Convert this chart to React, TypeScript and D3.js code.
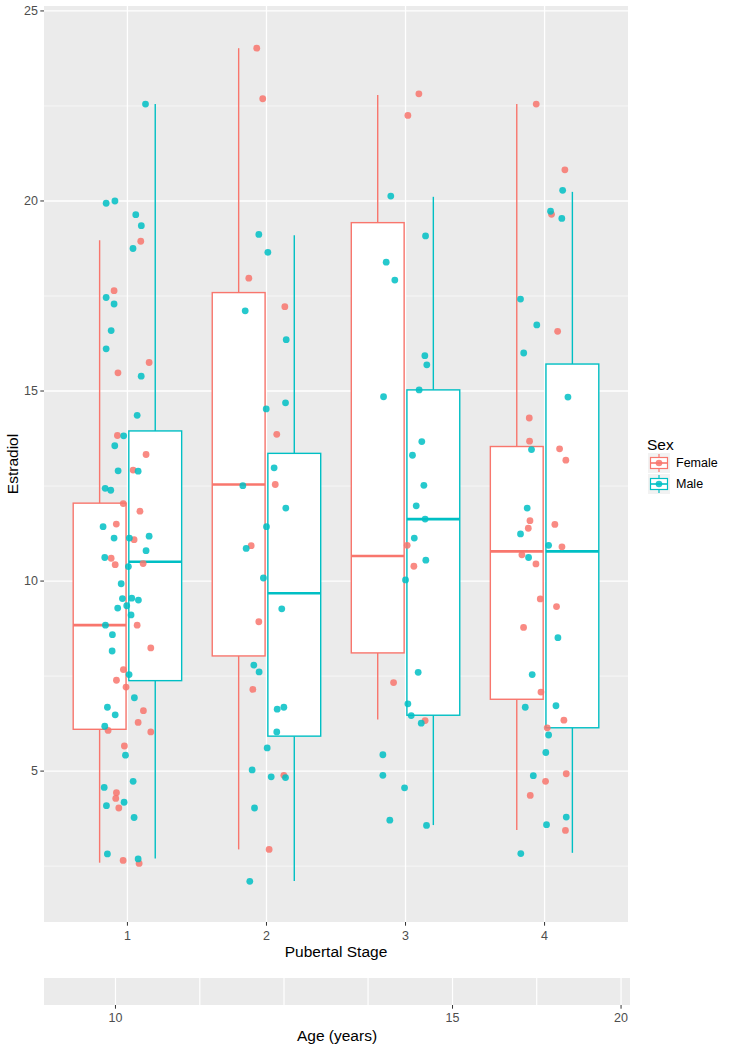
import React from "react";
import * as d3 from "d3";

// ---------- data ----------
const stages = [1, 2, 3, 4];
const sexes = ["Female", "Male"];
const sexColors = ["#F8766D", "#00BFC4"];
const yTicks = [5, 10, 15, 20, 25];
const yMinor = [2.5, 7.5, 12.5, 17.5, 22.5];
const ageTicks = [10, 15, 20];
const ageGrid = [10, 10.91, 12, 13.33, 15, 17.14, 20];
const ageDomain = [9.34, 20.36];

// [stage, lower whisker, q1, median, q3, upper whisker]
const femaleBoxes = [
  [1, 2.59, 6.1, 8.84, 12.05, 18.97],
  [2, 2.94, 8.03, 12.54, 17.59, 24.02],
  [3, 6.36, 8.11, 10.66, 19.43, 22.79],
  [4, 3.45, 6.89, 10.78, 13.54, 22.55],
];
const maleBoxes = [
  [1, 2.7, 7.38, 10.51, 13.95, 22.55],
  [2, 2.11, 5.92, 9.68, 13.36, 19.1],
  [3, 3.58, 6.47, 11.63, 15.03, 20.11],
  [4, 2.85, 6.14, 10.78, 15.71, 20.24],
];

// [stage, jitter, estradiol]
const femalePoints = [
  [1, 0.096, 18.94], [1, -0.096, 17.64], [1, 0.156, 15.75], [1, -0.068, 15.48], [1, -0.072, 13.83],
  [1, 0.134, 13.33], [1, 0.041, 12.92], [1, -0.03, 12.04], [1, 0.09, 11.84], [1, -0.08, 11.5],
  [1, 0.048, 11.09], [1, -0.117, 10.6], [1, -0.088, 10.43], [1, 0.113, 10.46], [1, 0.07, 8.84],
  [1, 0.168, 8.24], [1, -0.029, 7.67], [1, -0.079, 7.39], [1, -0.01, 7.21], [1, 0.115, 6.59],
  [1, 0.077, 6.28], [1, -0.139, 6.07], [1, 0.168, 6.03], [1, -0.022, 5.66], [1, -0.079, 4.43],
  [1, -0.084, 4.28], [1, -0.062, 4.03], [1, -0.031, 2.65], [1, 0.084, 2.57],
  [2, -0.07, 24.02], [2, -0.027, 22.69], [2, -0.127, 17.97], [2, 0.132, 17.22], [2, 0.074, 13.86],
  [2, 0.063, 12.54], [2, -0.11, 10.93], [2, -0.055, 8.93], [2, -0.098, 7.15], [2, 0.125, 4.89],
  [2, 0.019, 2.94],
  [3, 0.096, 22.82], [3, 0.017, 22.25], [3, 0.012, 10.94], [3, 0.06, 10.39], [3, -0.086, 7.33],
  [3, 0.141, 6.33],
  [4, -0.06, 22.55], [4, 0.146, 20.82], [4, 0.05, 19.65], [4, 0.094, 16.57], [4, -0.11, 14.29],
  [4, -0.108, 13.68], [4, 0.108, 13.48], [4, 0.153, 13.18], [4, -0.105, 11.59], [4, -0.117, 11.39],
  [4, 0.074, 11.49], [4, 0.125, 10.9], [4, -0.163, 10.69], [4, -0.062, 10.45], [4, -0.031, 9.53],
  [4, 0.086, 9.33], [4, -0.151, 8.78], [4, -0.026, 7.08], [4, 0.139, 6.34], [4, 0.019, 6.14],
  [4, 0.156, 4.93], [4, 0.007, 4.73], [4, -0.103, 4.36], [4, 0.15, 3.44],
];
const malePoints = [
  [1, 0.13, 22.55], [1, -0.153, 19.94], [1, -0.09, 20.0], [1, 0.06, 19.64], [1, 0.1, 19.35],
  [1, 0.04, 18.75], [1, -0.153, 17.46], [1, -0.096, 17.29], [1, -0.117, 16.59], [1, -0.153, 16.11],
  [1, 0.099, 15.39], [1, 0.07, 14.36], [1, -0.027, 13.82], [1, -0.091, 13.56], [1, -0.067, 12.9],
  [1, 0.077, 12.89], [1, -0.16, 12.44], [1, -0.12, 12.39], [1, -0.175, 11.43], [1, -0.096, 11.13],
  [1, 0.014, 11.13], [1, 0.156, 11.18], [1, 0.134, 10.8], [1, -0.163, 10.62], [1, 0.007, 10.38],
  [1, -0.045, 9.93], [1, -0.036, 9.54], [1, 0.031, 9.55], [1, 0.079, 9.5], [1, -0.07, 9.29],
  [1, -0.005, 9.35], [1, 0.026, 9.11], [1, -0.158, 8.84], [1, -0.108, 8.59], [1, -0.11, 8.16],
  [1, 0.012, 7.54], [1, 0.05, 6.93], [1, -0.144, 6.68], [1, -0.088, 6.48], [1, -0.163, 6.18],
  [1, -0.014, 5.42], [1, 0.041, 4.73], [1, -0.167, 4.57], [1, -0.024, 4.18], [1, -0.151, 4.09],
  [1, 0.048, 3.78], [1, -0.144, 2.82], [1, 0.077, 2.69],
  [2, -0.055, 19.12], [2, 0.01, 18.65], [2, -0.153, 17.11], [2, 0.142, 16.35], [2, -0.002, 14.53],
  [2, 0.137, 14.69], [2, 0.055, 12.98], [2, -0.17, 12.51], [2, 0.139, 11.92], [2, 0, 11.43],
  [2, -0.146, 10.86], [2, -0.022, 10.08], [2, 0.11, 9.27], [2, -0.091, 7.79], [2, -0.053, 7.61],
  [2, 0.077, 6.63], [2, 0.125, 6.68], [2, 0.074, 6.03], [2, 0.005, 5.61], [2, -0.103, 5.03],
  [2, 0.034, 4.85], [2, 0.137, 4.83], [2, -0.086, 4.03], [2, -0.12, 2.1],
  [3, -0.106, 20.13], [3, 0.144, 19.08], [3, -0.139, 18.39], [3, -0.077, 17.92], [3, 0.139, 15.93],
  [3, 0.153, 15.69], [3, 0.098, 15.03], [3, -0.158, 14.85], [3, 0.117, 13.67], [3, 0.05, 13.31],
  [3, 0.132, 12.52], [3, 0.077, 11.98], [3, 0.141, 11.63], [3, 0.063, 11.13], [3, 0.146, 10.55],
  [3, 0, 10.03], [3, 0.091, 7.6], [3, 0.017, 6.77], [3, 0.041, 6.46], [3, 0.113, 6.26],
  [3, -0.163, 5.43], [3, -0.163, 4.89], [3, -0.007, 4.56], [3, -0.113, 3.71], [3, 0.151, 3.57],
  [4, 0.13, 20.28], [4, 0.043, 19.73], [4, 0.124, 19.54], [4, -0.173, 17.42], [4, -0.056, 16.74],
  [4, -0.15, 16.0], [4, 0.168, 14.84], [4, -0.094, 13.46], [4, -0.125, 11.92], [4, -0.173, 11.24],
  [4, 0.029, 10.94], [4, -0.115, 10.62], [4, 0.096, 8.51], [4, -0.089, 7.54], [4, -0.139, 6.68],
  [4, 0.082, 6.72], [4, 0.029, 5.95], [4, 0.009, 5.49], [4, -0.081, 4.88], [4, 0.156, 3.79],
  [4, 0.014, 3.59], [4, -0.171, 2.83],
];

// ---------- layout ----------
const W = 736;
const H = 1050;
const panel = { left: 44, right: 628, top: 6, bottom: 922 };
const strip = { left: 44, right: 630, top: 978, bottom: 1005 };
const FONT = "'Liberation Sans', Arial, Helvetica, sans-serif";
const dodge = 0.2;
const halfBox = 0.19;

export default function App() {
  const x = d3.scaleLinear().domain([0.4, 4.6]).range([panel.left, panel.right]);
  const y = d3.scaleLinear().domain([1.03, 25.13]).range([panel.bottom, panel.top]);
  const age = d3
    .scaleLinear()
    .domain([1 / ageDomain[0], 1 / ageDomain[1]])
    .range([strip.left, strip.right]);

  const boxSets = [femaleBoxes, maleBoxes];
  const pointSets = [femalePoints, malePoints];

  return (
    <svg
      width={W}
      height={H}
      style={{ position: "absolute", left: 0, top: 0, background: "#fff" }}
      fontFamily={FONT}
    >
      {/* main panel */}
      <rect
        x={panel.left}
        y={panel.top}
        width={panel.right - panel.left}
        height={panel.bottom - panel.top}
        fill="#EBEBEB"
      />
      {yMinor.map((v) => (
        <line key={"mn" + v} x1={panel.left} x2={panel.right} y1={y(v)} y2={y(v)} stroke="#fff" strokeWidth={0.6} />
      ))}
      {yTicks.map((v) => (
        <line key={"mj" + v} x1={panel.left} x2={panel.right} y1={y(v)} y2={y(v)} stroke="#fff" strokeWidth={1.3} />
      ))}
      {stages.map((s) => (
        <line key={"vx" + s} x1={x(s)} x2={x(s)} y1={panel.top} y2={panel.bottom} stroke="#fff" strokeWidth={1.3} />
      ))}

      {/* boxes */}
      {boxSets.map((set, si) =>
        set.map(([s, lo, q1, med, q3, hi]) => {
          const cx = x(s + (si === 0 ? -dodge : dodge));
          const x0 = x(s + (si === 0 ? -dodge : dodge) - halfBox);
          const x1 = x(s + (si === 0 ? -dodge : dodge) + halfBox);
          const c = sexColors[si];
          return (
            <g key={"b" + si + s}>
              <line x1={cx} x2={cx} y1={y(hi)} y2={y(q3)} stroke={c} strokeWidth={1.4} />
              <line x1={cx} x2={cx} y1={y(q1)} y2={y(lo)} stroke={c} strokeWidth={1.4} />
              <rect x={x0} y={y(q3)} width={x1 - x0} height={y(q1) - y(q3)} fill="#fff" stroke={c} strokeWidth={1.4} />
              <line x1={x0} x2={x1} y1={y(med)} y2={y(med)} stroke={c} strokeWidth={2.6} />
            </g>
          );
        })
      )}

      {/* jittered points */}
      {pointSets.map((set, si) =>
        set.map(([s, j, v], i) => (
          <circle
            key={"p" + si + "-" + i}
            cx={x(s + j)}
            cy={y(v)}
            r={3.4}
            fill={sexColors[si]}
            fillOpacity={0.85}
          />
        ))
      )}

      {/* y axis */}
      {yTicks.map((v) => (
        <g key={"yt" + v}>
          <line x1={panel.left - 3.7} x2={panel.left} y1={y(v)} y2={y(v)} stroke="#333" strokeWidth={1} />
          <text x={panel.left - 6} y={y(v)} dy="0.35em" textAnchor="end" fontSize={12.5} fill="#4D4D4D">
            {v}
          </text>
        </g>
      ))}
      <text
        transform={`translate(${13},${(panel.top + panel.bottom) / 2}) rotate(-90)`}
        textAnchor="middle"
        dy="0.35em"
        fontSize={15.5}
        fill="#000"
      >
        Estradiol
      </text>

      {/* x axis */}
      {stages.map((s) => (
        <g key={"xt" + s}>
          <line x1={x(s)} x2={x(s)} y1={panel.bottom} y2={panel.bottom + 3.7} stroke="#333" strokeWidth={1} />
          <text x={x(s)} y={panel.bottom + 13.5} dy="0.35em" textAnchor="middle" fontSize={12.5} fill="#4D4D4D">
            {s}
          </text>
        </g>
      ))}
      <text x={(panel.left + panel.right) / 2} y={952} dy="0.35em" textAnchor="middle" fontSize={15.5} fill="#000">
        Pubertal Stage
      </text>

      {/* age strip */}
      <rect
        x={strip.left}
        y={strip.top}
        width={strip.right - strip.left}
        height={strip.bottom - strip.top}
        fill="#EBEBEB"
      />
      {ageGrid.map((a) => (
        <line key={"ag" + a} x1={age(1 / a)} x2={age(1 / a)} y1={strip.top} y2={strip.bottom} stroke="#fff" strokeWidth={1.2} />
      ))}
      {ageTicks.map((a) => (
        <g key={"at" + a}>
          <line x1={age(1 / a)} x2={age(1 / a)} y1={strip.bottom} y2={strip.bottom + 3.7} stroke="#333" strokeWidth={1} />
          <text x={age(1 / a)} y={strip.bottom + 12.5} dy="0.35em" textAnchor="middle" fontSize={12.5} fill="#4D4D4D">
            {a}
          </text>
        </g>
      ))}
      <text x={(strip.left + strip.right) / 2} y={1036} dy="0.35em" textAnchor="middle" fontSize={15.5} fill="#000">
        Age (years)
      </text>

      {/* legend */}
      <text x={647} y={445} dy="0.35em" fontSize={15.5} fill="#000">
        Sex
      </text>
      {sexes.map((name, i) => {
        const kx = 648;
        const ky = 453 + i * 21;
        const kw = 22;
        const kh = 20;
        const c = sexColors[i];
        const cx = kx + kw / 2;
        const cy = ky + kh / 2;
        return (
          <g key={"lg" + name}>
            <rect x={kx} y={ky} width={kw} height={kh} fill="#F2F2F2" />
            <line x1={cx} x2={cx} y1={ky + 1} y2={ky + kh - 1} stroke={c} strokeWidth={1.2} />
            <rect x={kx + 2.5} y={ky + 4.5} width={kw - 5} height={kh - 9} fill="#fff" stroke={c} strokeWidth={1.2} />
            <line x1={kx + 2.5} x2={kx + kw - 2.5} y1={cy} y2={cy} stroke={c} strokeWidth={1.6} />
            <circle cx={cx} cy={cy} r={3.3} fill={c} fillOpacity={0.85} />
            <text x={kx + kw + 6} y={cy} dy="0.35em" fontSize={12.5} fill="#000">
              {name}
            </text>
          </g>
        );
      })}
    </svg>
  );
}
